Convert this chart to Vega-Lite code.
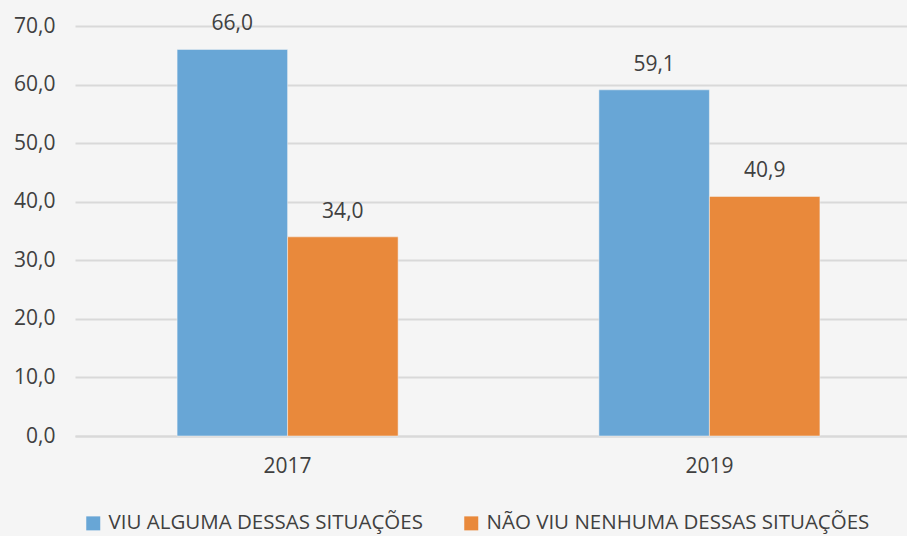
{
  "$schema": "https://vega.github.io/schema/vega-lite/v6.json",
  "autosize": "none",
  "width": 832,
  "height": 410,
  "padding": {"left": 75, "top": 26, "right": 0, "bottom": 100},
  "background": "#f5f5f5",
  "config": {
    "view": {"stroke": null},
    "font": "Open Sans",
    "locale": {"number": {"decimal": ",", "thousands": ".", "grouping": [3], "currency": ["R$", ""]}}
  },
  "data": {
    "values": [
      {"ano": "2017", "serie": "VIU ALGUMA DESSAS SITUAÇÕES", "valor": 66.0},
      {"ano": "2017", "serie": "NÃO VIU NENHUMA DESSAS SITUAÇÕES", "valor": 34.0},
      {"ano": "2019", "serie": "VIU ALGUMA DESSAS SITUAÇÕES", "valor": 59.1},
      {"ano": "2019", "serie": "NÃO VIU NENHUMA DESSAS SITUAÇÕES", "valor": 40.9}
    ]
  },
  "encoding": {
    "x": {
      "field": "ano", "type": "nominal",
      "scale": {"range": [0, 847], "paddingInner": 0.476, "paddingOuter": 0.242},
      "axis": {"title": null, "labelAngle": 0, "ticks": false, "labelPadding": 19,
        "labelFont": "Open Sans", "labelFontSize": 21, "labelColor": "#404040",
        "domainColor": "#d9d9d9", "domainWidth": 2}
    },
    "xOffset": {"field": "serie", "type": "nominal", "sort": ["VIU ALGUMA DESSAS SITUAÇÕES", "NÃO VIU NENHUMA DESSAS SITUAÇÕES"]},
    "y": {
      "field": "valor", "type": "quantitative",
      "scale": {"domain": [0, 70], "nice": false},
      "axis": {
        "title": null, "values": [0, 10, 20, 30, 40, 50, 60, 70],
        "format": ".1f",
        "labelOverlap": false,
        "labelFont": "Open Sans", "labelFontSize": 21, "labelColor": "#404040",
        "domain": false, "ticks": false, "labelPadding": 20,
        "gridColor": "#d9d9d9", "gridWidth": 2
      }
    }
  },
  "layer": [
    {
      "mark": {"type": "bar", "stroke": "#f5f5f5", "strokeWidth": 0.5},
      "encoding": {
        "color": {
          "field": "serie", "type": "nominal",
          "sort": ["VIU ALGUMA DESSAS SITUAÇÕES", "NÃO VIU NENHUMA DESSAS SITUAÇÕES"],
          "scale": {"range": ["#68a6d6", "#e9893b"]},
          "legend": {
            "title": null, "orient": "none", "legendX": 8, "legendY": 487, "direction": "horizontal",
            "symbolType": "square", "symbolSize": 196, "symbolStrokeWidth": 0,
            "labelFontSize": 20.5, "labelColor": "#404040", "labelFont": "Open Sans",
            "labelLimit": 500, "columnPadding": 38, "labelOffset": 5
          }
        }
      }
    },
    {
      "mark": {"type": "text", "baseline": "alphabetic", "dy": -19, "fontSize": 21, "color": "#404040", "font": "Open Sans"},
      "encoding": {
        "text": {"field": "valor", "type": "quantitative", "format": ".1f"}
      }
    }
  ]
}
